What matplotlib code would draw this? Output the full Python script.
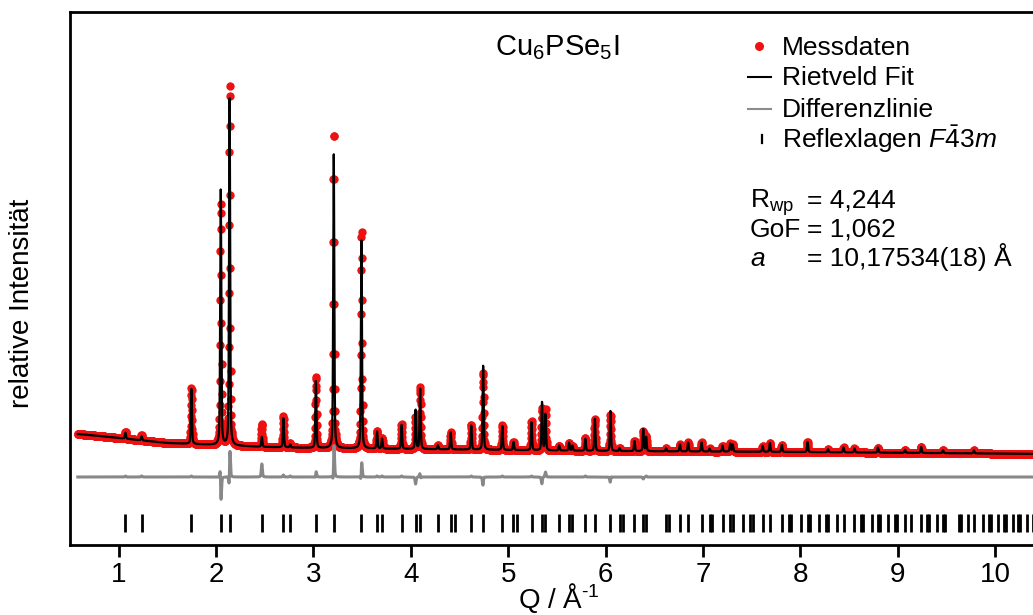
import numpy as np
import matplotlib
matplotlib.use("Agg")
import matplotlib.pyplot as plt
from matplotlib.lines import Line2D

plt.rcParams['font.family'] = ['Liberation Sans', 'DejaVu Sans']
plt.rcParams['mathtext.fontset'] = 'custom'
plt.rcParams['mathtext.rm'] = 'Liberation Sans'
plt.rcParams['mathtext.it'] = 'Liberation Sans:italic'
plt.rcParams['mathtext.bf'] = 'Liberation Sans:bold'

# ---------------- data ----------------
# reflection positions (Q / 1/A) for F-43m, a = 10.17534 A
refl_q = [1.0695, 1.2350, 1.7466, 2.0480, 2.1390, 2.4700, 2.6916, 2.7615, 3.0250,
          3.2086, 3.4930, 3.6531, 3.7049, 3.9054, 4.0491, 4.0960, 4.2781, 4.4097,
          4.4528, 4.6209, 4.7430, 4.9399, 5.0544, 5.0920, 5.2396, 5.3476, 5.3831,
          5.5230, 5.6256, 5.6594, 5.7926, 5.8905, 6.0502, 6.1440, 6.1749, 6.2972,
          6.3873, 6.4171, 6.6219, 6.6506, 6.7643, 6.8484, 6.9858, 7.0676, 7.0944,
          7.2011, 7.2802, 7.3062, 7.4099, 7.4867, 7.5121, 7.6129, 7.6877, 7.8106,
          7.8835, 7.9077, 8.0035, 8.0749, 8.0983, 8.1918, 8.2613, 8.2845, 8.3759,
          8.4440, 8.5562, 8.6228, 8.6449, 8.7326, 8.7980, 8.8195, 8.9056, 8.9696,
          8.9908, 9.0752, 9.1380, 9.2419, 9.3035, 9.3239, 9.4053, 9.4660, 9.4861,
          9.6258, 9.6456, 9.7243, 9.7829, 9.8798, 9.9375, 9.9568, 10.0331, 10.0898,
          10.1088, 10.1838, 10.2400, 10.2584, 10.3326, 10.3879]

# visible peaks: position, calculated height, observed height, observed shift
peak_q = [1.0695, 1.2350, 1.7466, 2.0480, 2.1390, 2.4700, 2.6916, 2.7615, 3.0250,
          3.2086, 3.4930, 3.6531, 3.7049, 3.9054, 4.0491, 4.0960, 4.2781, 4.4097,
          4.6209, 4.7430, 4.9399, 5.0544, 5.2396, 5.3476, 5.3831, 5.5230, 5.6256,
          5.6594, 5.7926, 5.8905, 6.0502, 6.1440, 6.2972, 6.3873, 6.4171, 6.6219,
          6.7643, 6.8484, 6.9858, 7.0676, 7.2011, 7.2802, 7.3062, 7.6129, 7.6877,
          7.8106, 8.0749, 8.2845, 8.4440, 8.5562, 8.7980, 9.0752, 9.2419, 9.4660,
          9.7829]
calc_h = [6, 4, 55, 255, 347, 10, 29, 3, 67,
          294, 208, 17, 10, 24, 39, 60, 4, 17,
          24, 84, 24, 8, 28, 48, 36, 5, 8,
          5, 12, 32, 40, 3, 10, 22, 14, 3,
          7, 9, 9, 3, 6, 8, 7, 6, 9,
          7, 10, 3, 5, 4, 5, 3, 6, 3,
          3]
obs_h = [7, 5, 56, 242, 362, 23, 31, 4, 71,
         318, 218, 18, 11, 25, 32, 62, 4, 17,
         25, 77, 25, 8, 29, 42, 41, 5, 8,
         5, 13, 32, 36, 3, 10, 20, 15, 3,
         7, 9, 9, 3, 6, 8, 7, 6, 9,
         7, 10, 3, 5, 4, 5, 3, 6, 3,
         3]
obs_shift = [0, 0, 0, -0.0005, 0.0004, 0, 0, 0, 0.0003,
             0.0004, 0.0003, 0, 0, 0, 0, -0.0003, 0, 0,
             0, 0.0003, 0, 0, 0, 0.0004, 0, 0, 0,
             0, 0, 0, 0.0005, 0, 0, 0, 0, 0,
             0, 0, 0, 0, 0, 0, 0, 0, 0,
             0, 0, 0, 0, 0, 0, 0, 0, 0,
             0]
bg_q = [0.58, 0.7, 0.9, 1.2, 1.5, 2.0, 2.5, 3.0, 4.0, 5.0, 6.0, 8.0, 10.6]
bg_y = [111, 110, 108, 105, 102, 100, 98, 97, 96, 95, 94, 93, 91]
diff_base = 68
refl_lo, refl_hi = 13, 31
fwhm, eta = 0.013, 0.4

legend_labels = ['Messdaten', 'Rietveld Fit', 'Differenzlinie',
                 r'Reflexlagen $\mathit{F\bar{4}3m}$']
param_names = [r'R$_{\mathrm{wp}}$', 'GoF', 'a']
param_values = ['= 4,244', '= 1,062', '= 10,17534(18) Å']

# ---------------- figure ----------------
W, H = 1033, 615
fig = plt.figure(figsize=(W / 100, H / 100), dpi=100)
ax = fig.add_axes([69.5 / W, (H - 545) / H, (1048 - 69.5) / W, 533 / H])


def profile(q, centers, heights, shifts):
    y = np.interp(q, bg_q, bg_y)
    for c, h, s in zip(centers, heights, shifts):
        x = (q - c - s) / (fwhm / 2)
        y = y + h * ((1 - eta) * np.exp(-np.log(2) * x ** 2) + eta / (1 + x ** 2))
    return y


zeros = [0] * len(peak_q)
q_obs = np.arange(0.58, 10.6, 0.002)
q_fine = np.arange(0.58, 10.6, 0.0004)
y_obs = profile(q_obs, peak_q, obs_h, obs_shift)
y_calc = profile(q_fine, peak_q, calc_h, zeros)
y_diff = profile(q_fine, peak_q, obs_h, obs_shift) - y_calc + diff_base

RED, GRAY = '#ee1111', '#888888'
ax.plot(q_obs, y_obs, 'o', color=RED, ms=6.0, mew=0, zorder=2)
ax.plot(q_fine, y_calc, color='black', lw=1.6, zorder=3)
ax.plot(q_fine, y_diff, color=GRAY, lw=2.2, zorder=2)
ax.vlines(refl_q, refl_lo, refl_hi, color='black', lw=2.0, zorder=2)

ax.set_xlim((69.5 - 21.33) / 97.37, (1048 - 21.33) / 97.37)
ax.set_ylim(0, 533)
ax.set_xticks(range(1, 11))
ax.set_yticks([])
ax.tick_params(axis='x', direction='out', length=8.5, width=2, labelsize=20, pad=4)
for sp in ['left', 'top', 'bottom', 'right']:
    ax.spines[sp].set_linewidth(2)

ax.set_xlabel(r'Q / Å$^{\text{-1}}$', fontsize=20, labelpad=-5)
fig.text(22 / W, 1 - 303 / H, 'relative Intensität', rotation=90, fontsize=20,
         ha='center', va='center')

fig.text(495 / W, 1 - 55 / H, r'Cu$_6$PSe$_5$I', fontsize=21, ha='left', va='baseline')


def fx(px):
    return px / W


def fy(py):
    return 1 - py / H


# legend (manual, to follow the reference layout)
fig.add_artist(Line2D([fx(759)], [fy(46)], marker='o', color=RED, ls='none', ms=6.5, mew=0,
                      transform=fig.transFigure))
fig.add_artist(Line2D([fx(748), fx(771)], [fy(77), fy(77)], color='black', lw=1.5,
                      transform=fig.transFigure))
fig.add_artist(Line2D([fx(748), fx(771)], [fy(109), fy(109)], color='#8c8c8c', lw=1.5,
                      transform=fig.transFigure))
fig.add_artist(Line2D([fx(762), fx(762)], [fy(135), fy(143)], color='black', lw=1.6,
                      transform=fig.transFigure))
for lab, base in zip(legend_labels, [55, 85, 117, 148]):
    fig.text(fx(782), fy(base), lab, fontsize=19, va='baseline', ha='left')

rows = [208, 237, 266]
for name, val, base in zip(param_names, param_values, rows):
    fig.text(fx(750), fy(base), name, fontsize=19, va='baseline',
             style='italic' if name == 'a' else 'normal')
    fig.text(fx(807), fy(base), val, fontsize=19, va='baseline')

fig.savefig('out.png', dpi=100)
